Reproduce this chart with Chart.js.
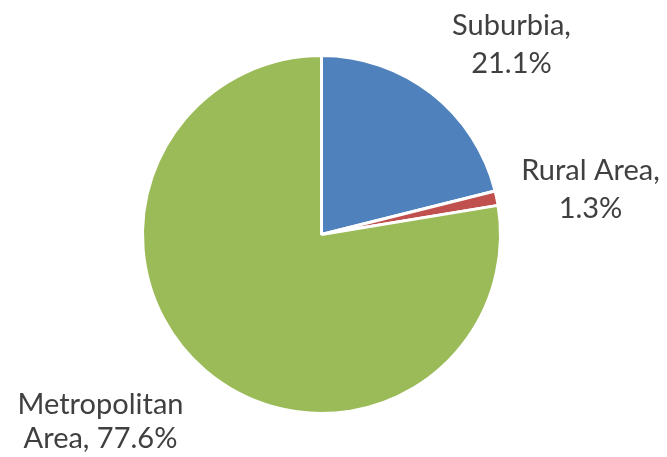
<!DOCTYPE html>
<html lang="en">
<head>
    <meta charset="UTF-8">
    <title>Population by Area</title>
    <script src="https://cdn.jsdelivr.net/npm/chart.js"></script>
    <style>
        html, body { margin: 0; padding: 0; background: #fff; }
        .container { width: 667px; height: 457px; }
    </style>
</head>
<body>
    <div class="container">
        <canvas id="areaChart" width="667" height="457"></canvas>
    </div>

    <script>
        const areas = ['Suburbia', 'Rural Area', 'Metropolitan Area'];
        const shares = [21.1, 1.3, 77.6];
        const colors = ['#4F81BD', '#C0504D', '#9BBB59'];
        // label lines, plus where each label block sits relative to the pie centre
        const labelLines = [['Suburbia,', '21.1%'], ['Rural Area,', '1.3%'], ['Metropolitan', 'Area, 77.6%']];
        const labelOffset = [[190, -190], [269, -45], [-221, 187]];
        const labelGap = [38, 38, 34];

        const outsideLabels = {
            id: 'outsideLabels',
            afterDatasetsDraw(chart) {
                const ctx = chart.ctx;
                const arcs = chart.getDatasetMeta(0).data;
                ctx.save();
                ctx.font = '29px Lato, sans-serif';
                ctx.fillStyle = '#404040';
                ctx.textAlign = 'center';
                ctx.textBaseline = 'middle';
                arcs.forEach((arc, i) => {
                    const cx = arc.x + labelOffset[i][0];
                    const cy = arc.y + labelOffset[i][1];
                    const n = labelLines[i].length;
                    labelLines[i].forEach((line, j) => {
                        ctx.fillText(line, cx, cy + (j - (n - 1) / 2) * labelGap[i]);
                    });
                });
                ctx.restore();
            }
        };

        new Chart(document.getElementById('areaChart'), {
            type: 'pie',
            data: {
                labels: areas,
                datasets: [{
                    data: shares,
                    backgroundColor: colors,
                    borderColor: '#ffffff',
                    borderWidth: 3
                }]
            },
            options: {
                responsive: false,
                animation: false,
                layout: { padding: { top: 54, bottom: 42, left: 0, right: 24 } },
                plugins: {
                    legend: { display: false },
                    tooltip: { enabled: false }
                }
            },
            plugins: [outsideLabels]
        });
    </script>
</body>
</html>
